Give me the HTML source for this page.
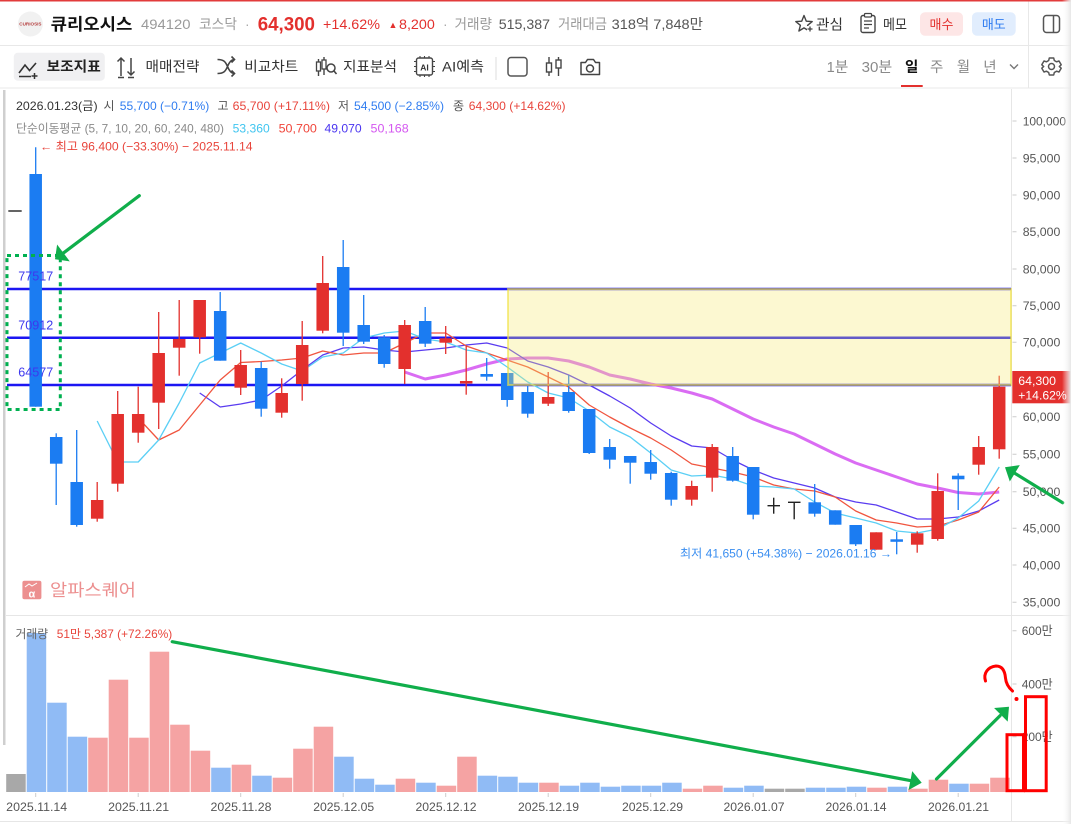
<!DOCTYPE html>
<html><head><meta charset="utf-8">
<style>
html,body{margin:0;padding:0;background:#fff;width:1071px;height:824px;overflow:hidden;}
svg{display:block;}
</style></head>
<body>
<svg width="1071" height="824" viewBox="0 0 1071 824" xmlns="http://www.w3.org/2000/svg" font-family="'Liberation Sans','Noto Sans CJK KR',sans-serif">
<defs>
<linearGradient id="sh" x1="0" x2="1" y1="0" y2="0"><stop offset="0" stop-color="#fff" stop-opacity="0"/><stop offset="1" stop-color="#e6e6e6"/></linearGradient>
</defs>
<rect width="1071" height="824" fill="#fff"/>

<!-- ===== HEADER ===== -->
<rect x="0" y="0" width="1071" height="1.5" fill="#e23b3b"/>
<line x1="0" y1="45.5" x2="1071" y2="45.5" stroke="#e8e8e8"/>
<line x1="0" y1="88" x2="1071" y2="88" stroke="#e8e8e8"/>
<line x1="1028.5" y1="1.5" x2="1028.5" y2="88" stroke="#e8e8e8"/>

<circle cx="30.4" cy="24" r="12.5" fill="#f1f1f1"/>
<text x="30.4" y="25.6" font-size="4.6" text-anchor="middle" fill="#b54040" font-weight="bold">CURIOSIS</text>

<text x="50.6" y="30" font-size="16.5" font-weight="bold" fill="#111" textLength="81.8" lengthAdjust="spacingAndGlyphs">큐리오시스</text>
<text x="141" y="29" font-size="14" fill="#9a9a9a" textLength="49.5" lengthAdjust="spacingAndGlyphs">494120</text>
<text x="199" y="29" font-size="14" fill="#9a9a9a" textLength="38" lengthAdjust="spacingAndGlyphs">코스닥</text>
<text x="245" y="29" font-size="14" fill="#aaa">·</text>
<text x="257.7" y="30.5" font-size="19" font-weight="bold" fill="#e3302d" textLength="57.3" lengthAdjust="spacingAndGlyphs">64,300</text>
<text x="323" y="29" font-size="14" fill="#e3302d" textLength="57" lengthAdjust="spacingAndGlyphs">+14.62%</text>
<text x="388.5" y="28" font-size="9" fill="#e3302d">▲</text>
<text x="399" y="29" font-size="14" fill="#e3302d" textLength="35.8" lengthAdjust="spacingAndGlyphs">8,200</text>
<text x="443" y="29" font-size="14" fill="#aaa">·</text>
<text x="454.5" y="29" font-size="14" fill="#9a9a9a" textLength="37.5" lengthAdjust="spacingAndGlyphs">거래량</text>
<text x="498.8" y="29" font-size="14" fill="#555" textLength="51.2" lengthAdjust="spacingAndGlyphs">515,387</text>
<text x="558" y="29" font-size="14" fill="#9a9a9a" textLength="49" lengthAdjust="spacingAndGlyphs">거래대금</text>
<text x="611.7" y="29" font-size="14" fill="#555" textLength="91.3" lengthAdjust="spacingAndGlyphs">318억 7,848만</text>

<!-- star -->
<polygon points="804,15.5 806.3,21.2 812.2,21.6 807.6,25.3 809.1,31 804,27.9 798.9,31 800.4,25.3 795.8,21.6 801.7,21.2" fill="none" stroke="#444" stroke-width="1.4" stroke-linejoin="round"/>
<rect x="807" y="26" width="6" height="6" fill="#fff"/>
<path d="M810 26.5v5M807.5 29h5" stroke="#444" stroke-width="1.3"/>
<text x="816" y="29.5" font-size="14" fill="#333" textLength="27" lengthAdjust="spacingAndGlyphs">관심</text>
<!-- memo -->
<rect x="861" y="15.5" width="14" height="17" rx="2" fill="none" stroke="#444" stroke-width="1.4"/>
<rect x="864.5" y="13.5" width="7" height="3.5" rx="1" fill="#fff" stroke="#444" stroke-width="1.2"/>
<path d="M864 21h8M864 24.5h8M864 28h5" stroke="#444" stroke-width="1.2"/>
<text x="883" y="29.5" font-size="14" fill="#333" textLength="24" lengthAdjust="spacingAndGlyphs">메모</text>
<!-- buttons -->
<rect x="920" y="12.3" width="43" height="23.4" rx="5" fill="#fde6e6"/>
<text x="941.5" y="28.8" font-size="13" fill="#e3302d" text-anchor="middle">매수</text>
<rect x="972" y="12.3" width="43.7" height="23.4" rx="5" fill="#e1edfd"/>
<text x="993.8" y="28.8" font-size="13" fill="#2f7cf0" text-anchor="middle">매도</text>
<!-- panel icon -->
<rect x="1043.5" y="15.5" width="16" height="17" rx="3" fill="none" stroke="#555" stroke-width="1.5"/>
<line x1="1053.5" y1="15.5" x2="1053.5" y2="32.5" stroke="#555" stroke-width="1.5"/>

<!-- ===== TOOLBAR ===== -->
<rect x="13.8" y="52.7" width="91" height="28" rx="4" fill="#f0f0f2"/>
<path d="M19 73 L25 65 L29.5 70.5 L36 63" fill="none" stroke="#333" stroke-width="1.6"/>
<path d="M19 76.5h12M34.5 73v6M31.5 76h6" stroke="#333" stroke-width="1.5"/>
<text x="46.6" y="71.5" font-size="14" fill="#222" font-weight="bold" textLength="54.2" lengthAdjust="spacingAndGlyphs">보조지표</text>

<path d="M121 76V58M117.5 61.5L121 58L124.5 61.5M131 58V75M127.5 71.5L131 75L134.5 71.5M118 77.5h6M128 77.5h6" fill="none" stroke="#444" stroke-width="1.5"/>
<text x="145.5" y="71.5" font-size="14" fill="#333" textLength="54" lengthAdjust="spacingAndGlyphs">매매전략</text>

<path d="M217.5 59.5c6 0 8 2 10 7s4 7 7 7M217.5 73.5c6 0 8-2 10-7s4-7 7-7M231.5 56.5l3 3-3 3M231.5 70.5l3 3-3 3" fill="none" stroke="#444" stroke-width="1.6"/>
<text x="244.3" y="71.5" font-size="14" fill="#333" textLength="54" lengthAdjust="spacingAndGlyphs">비교차트</text>

<path d="M318.5 59v17M324 57v18" stroke="#444" stroke-width="1.4"/>
<rect x="316.5" y="62" width="4" height="9" fill="#fff" stroke="#444" stroke-width="1.3"/>
<rect x="322" y="60" width="4" height="9" fill="#fff" stroke="#444" stroke-width="1.3"/>
<circle cx="331" cy="68" r="4" fill="none" stroke="#444" stroke-width="1.5"/>
<path d="M334 71l2.5 3" stroke="#444" stroke-width="1.6"/>
<text x="343" y="71.5" font-size="14" fill="#333" textLength="54" lengthAdjust="spacingAndGlyphs">지표분석</text>

<rect x="416.5" y="58" width="16" height="17" rx="2" fill="none" stroke="#444" stroke-width="1.4"/>
<path d="M414 61.5h2.5M414 66.5h2.5M414 71.5h2.5M432.5 61.5h2.5M432.5 66.5h2.5M432.5 71.5h2.5M420 56v2M424.5 56v2M429 56v2M420 75v2M424.5 75v2M429 75v2" stroke="#444" stroke-width="1.1"/>
<text x="424.5" y="70.3" font-size="8.5" fill="#333" text-anchor="middle" font-weight="bold">AI</text>
<text x="442" y="71.5" font-size="14" fill="#333" textLength="42" lengthAdjust="spacingAndGlyphs">AI예측</text>

<line x1="496" y1="57" x2="496" y2="80" stroke="#ddd"/>
<rect x="508" y="57.5" width="19" height="18.5" rx="3" fill="none" stroke="#555" stroke-width="1.5"/>
<path d="M549 57v19M558.5 57v19" stroke="#444" stroke-width="1.4"/>
<rect x="546.5" y="63" width="5" height="9" fill="#fff" stroke="#444" stroke-width="1.4"/>
<rect x="556" y="60" width="5" height="8" fill="#fff" stroke="#444" stroke-width="1.4"/>
<path d="M581 62.5h4.5l2-3h6l2 3h4v12h-18.5z" fill="none" stroke="#444" stroke-width="1.5" stroke-linejoin="round"/>
<circle cx="590" cy="68.5" r="3.5" fill="none" stroke="#444" stroke-width="1.5"/>

<text x="826.7" y="72" font-size="14.5" fill="#8a8a8a" textLength="21.6" lengthAdjust="spacingAndGlyphs">1분</text>
<text x="861.7" y="72" font-size="14.5" fill="#8a8a8a" textLength="30.6" lengthAdjust="spacingAndGlyphs">30분</text>
<text x="905" y="72" font-size="14.5" fill="#111" font-weight="bold">일</text>
<rect x="901" y="85" width="21.7" height="2" fill="#e3302d"/>
<text x="930" y="72" font-size="14.5" fill="#8a8a8a">주</text>
<text x="956.7" y="72" font-size="14.5" fill="#8a8a8a">월</text>
<text x="983.3" y="72" font-size="14.5" fill="#8a8a8a">년</text>
<path d="M1010 64.5l4 4 4-4" fill="none" stroke="#777" stroke-width="1.4"/>
<!-- gear -->
<g transform="translate(1051.5,66.5)" fill="none" stroke="#555" stroke-width="1.5">
<path d="M-2.2,-8.5 L2.2,-8.5 L2.8,-6 L5.1,-4.7 L7.5,-5.5 L9.7,-1.7 L7.8,0 L9.7,1.7 L7.5,5.5 L5.1,4.7 L2.8,6 L2.2,8.5 L-2.2,8.5 L-2.8,6 L-5.1,4.7 L-7.5,5.5 L-9.7,1.7 L-7.8,0 L-9.7,-1.7 L-7.5,-5.5 L-5.1,-4.7 L-2.8,-6 Z" stroke-linejoin="round"/>
<circle r="3"/>
</g>

<!-- ===== CHART FRAME ===== -->
<rect x="3" y="90" width="2.5" height="655" fill="#cfcfcf"/>
<line x1="1011.5" y1="89" x2="1011.5" y2="821" stroke="#e6e6e6"/>
<line x1="6" y1="615.5" x2="1071" y2="615.5" stroke="#e6e6e6"/>
<line x1="0" y1="821.5" x2="1071" y2="821.5" stroke="#e6e6e6"/>

<!-- info lines -->
<text x="16" y="110" font-size="12" fill="#333" textLength="81.6" lengthAdjust="spacingAndGlyphs">2026.01.23(금)</text>
<text x="103.5" y="110" font-size="12" fill="#555">시</text>
<text x="119.8" y="110" font-size="12" fill="#2f7cf0" textLength="89.5" lengthAdjust="spacingAndGlyphs">55,700 (−0.71%)</text>
<text x="217.5" y="110" font-size="12" fill="#555">고</text>
<text x="232.7" y="110" font-size="12" fill="#e8453c" textLength="97.3" lengthAdjust="spacingAndGlyphs">65,700 (+17.11%)</text>
<text x="338" y="110" font-size="12" fill="#555">저</text>
<text x="354" y="110" font-size="12" fill="#2f7cf0" textLength="90" lengthAdjust="spacingAndGlyphs">54,500 (−2.85%)</text>
<text x="453" y="110" font-size="12" fill="#555">종</text>
<text x="468.8" y="110" font-size="12" fill="#e8453c" textLength="96.8" lengthAdjust="spacingAndGlyphs">64,300 (+14.62%)</text>

<text x="16" y="132.5" font-size="12" fill="#8a8a8a" textLength="208" lengthAdjust="spacingAndGlyphs">단순이동평균 (5, 7, 10, 20, 60, 240, 480)</text>
<text x="232.7" y="132.5" font-size="12" fill="#3fc5f0" textLength="37" lengthAdjust="spacingAndGlyphs">53,360</text>
<text x="278.6" y="132.5" font-size="12" fill="#f0453a" textLength="38.3" lengthAdjust="spacingAndGlyphs">50,700</text>
<text x="324.5" y="132.5" font-size="12" fill="#4a35f0" textLength="37.2" lengthAdjust="spacingAndGlyphs">49,070</text>
<text x="370.5" y="132.5" font-size="12" fill="#d457f0" textLength="38.2" lengthAdjust="spacingAndGlyphs">50,168</text>

<text x="40" y="150.3" font-size="12" fill="#e8453c" textLength="212.6" lengthAdjust="spacingAndGlyphs">← 최고 96,400 (−33.30%) − 2025.11.14</text>

<!-- price axis -->
<g font-size="12.3" fill="#555">
<text x="1022.7" y="125.3" textLength="43.3" lengthAdjust="spacingAndGlyphs">100,000</text>
<text x="1022.7" y="162.3" textLength="37.6" lengthAdjust="spacingAndGlyphs">95,000</text>
<text x="1022.7" y="199.3" textLength="37.6" lengthAdjust="spacingAndGlyphs">90,000</text>
<text x="1022.7" y="236" textLength="37.6" lengthAdjust="spacingAndGlyphs">85,000</text>
<text x="1022.7" y="273.3" textLength="37.6" lengthAdjust="spacingAndGlyphs">80,000</text>
<text x="1022.7" y="310" textLength="37.6" lengthAdjust="spacingAndGlyphs">75,000</text>
<text x="1022.7" y="346.6" textLength="37.6" lengthAdjust="spacingAndGlyphs">70,000</text>
<text x="1022.7" y="421" textLength="37.6" lengthAdjust="spacingAndGlyphs">60,000</text>
<text x="1022.7" y="458.6" textLength="37.6" lengthAdjust="spacingAndGlyphs">55,000</text>
<text x="1022.7" y="496" textLength="37.6" lengthAdjust="spacingAndGlyphs">50,000</text>
<text x="1022.7" y="532.6" textLength="37.6" lengthAdjust="spacingAndGlyphs">45,000</text>
<text x="1022.7" y="569.3" textLength="37.6" lengthAdjust="spacingAndGlyphs">40,000</text>
<text x="1022.7" y="606.5" textLength="37.6" lengthAdjust="spacingAndGlyphs">35,000</text>
</g>
<path d="M1012.5 121h4M1012.5 158h4M1012.5 195h4M1012.5 231.7h4M1012.5 269h4M1012.5 305.7h4M1012.5 342.3h4M1012.5 416.7h4M1012.5 454.3h4M1012.5 491.7h4M1012.5 528.3h4M1012.5 565h4M1012.5 602.2h4" stroke="#ccc"/>

<!-- volume axis -->
<g font-size="12.3" fill="#555">
<text x="1021.7" y="635" textLength="31" lengthAdjust="spacingAndGlyphs">600만</text>
<text x="1021.7" y="688.3" textLength="31" lengthAdjust="spacingAndGlyphs">400만</text>
<text x="1021.7" y="741" textLength="31" lengthAdjust="spacingAndGlyphs">200만</text>
</g>
<path d="M1012.5 630.7h4M1012.5 684h4M1012.5 736.7h4" stroke="#ccc"/>

<!-- date axis -->
<g font-size="12.3" fill="#555" text-anchor="middle">
<text x="36.7" y="811" textLength="61" lengthAdjust="spacingAndGlyphs">2025.11.14</text>
<text x="138.6" y="811" textLength="61" lengthAdjust="spacingAndGlyphs">2025.11.21</text>
<text x="241" y="811" textLength="61" lengthAdjust="spacingAndGlyphs">2025.11.28</text>
<text x="343.7" y="811" textLength="61" lengthAdjust="spacingAndGlyphs">2025.12.05</text>
<text x="446" y="811" textLength="61" lengthAdjust="spacingAndGlyphs">2025.12.12</text>
<text x="548.5" y="811" textLength="61" lengthAdjust="spacingAndGlyphs">2025.12.19</text>
<text x="652.5" y="811" textLength="61" lengthAdjust="spacingAndGlyphs">2025.12.29</text>
<text x="754" y="811" textLength="61" lengthAdjust="spacingAndGlyphs">2026.01.07</text>
<text x="856" y="811" textLength="61" lengthAdjust="spacingAndGlyphs">2026.01.14</text>
<text x="958.5" y="811" textLength="61" lengthAdjust="spacingAndGlyphs">2026.01.21</text>
</g>
<path d="M35.7 793v4M138.2 793v4M240.7 793v4M343.2 793v4M445.7 793v4M548.2 793v4M650.7 793v4M753.2 793v4M855.7 793v4M958.2 793v4" stroke="#ccc"/>

<!-- watermark -->
<rect x="22.4" y="580.7" width="19" height="18.6" rx="2" fill="#ec8f8f"/>
<path d="M25 587l4-3 3 2 5-3" fill="none" stroke="#fff" stroke-width="1"/>
<text x="31.9" y="597.5" font-size="11" fill="#fff" text-anchor="middle" font-weight="bold">α</text>
<text x="50" y="596" font-size="17" fill="#ec8f8f" textLength="86" lengthAdjust="spacingAndGlyphs">알파스퀘어</text>

<!-- ===== VOLUME BARS ===== -->
<g fill="#90bbf5">
<rect x="26.7" y="633" width="19.5" height="159"/>
<rect x="47.2" y="702.7" width="19.5" height="89.3"/>
<rect x="67.7" y="736.7" width="19.5" height="55.3"/>
<rect x="211.2" y="767.7" width="19.5" height="24.3"/>
<rect x="252.2" y="775.7" width="19.5" height="16.3"/>
<rect x="334.2" y="756.7" width="19.5" height="35.3"/>
<rect x="354.7" y="778.7" width="19.5" height="13.3"/>
<rect x="375.2" y="784.7" width="19.5" height="7.3"/>
<rect x="416.2" y="782.7" width="19.5" height="9.3"/>
<rect x="477.7" y="775.7" width="19.5" height="16.3"/>
<rect x="498.2" y="776.7" width="19.5" height="15.3"/>
<rect x="518.7" y="782.7" width="19.5" height="9.3"/>
<rect x="559.7" y="785.7" width="19.5" height="6.3"/>
<rect x="580.2" y="782.7" width="19.5" height="9.3"/>
<rect x="600.7" y="786.7" width="19.5" height="5.3"/>
<rect x="621.2" y="785.7" width="19.5" height="6.3"/>
<rect x="641.7" y="785.7" width="19.5" height="6.3"/>
<rect x="662.2" y="782.7" width="19.5" height="9.3"/>
<rect x="723.7" y="787.7" width="19.5" height="4.3"/>
<rect x="744.2" y="785.7" width="19.5" height="6.3"/>
<rect x="805.7" y="787.7" width="19.5" height="4.3"/>
<rect x="826.2" y="787.7" width="19.5" height="4.3"/>
<rect x="846.7" y="786.7" width="19.5" height="5.3"/>
<rect x="887.7" y="786.7" width="19.5" height="5.3"/>
<rect x="949.2" y="783.7" width="19.5" height="8.3"/>
</g>
<g fill="#f5a3a3">
<rect x="88.2" y="737.7" width="19.5" height="54.3"/>
<rect x="108.7" y="679.7" width="19.5" height="112.3"/>
<rect x="129.2" y="737.7" width="19.5" height="54.3"/>
<rect x="149.7" y="651.7" width="19.5" height="140.3"/>
<rect x="170.2" y="724.7" width="19.5" height="67.3"/>
<rect x="190.7" y="750.7" width="19.5" height="41.3"/>
<rect x="231.7" y="764.7" width="19.5" height="27.3"/>
<rect x="272.7" y="777.7" width="19.5" height="14.3"/>
<rect x="293.2" y="748.7" width="19.5" height="43.3"/>
<rect x="313.7" y="726.7" width="19.5" height="65.3"/>
<rect x="395.7" y="778.7" width="19.5" height="13.3"/>
<rect x="436.7" y="785.7" width="19.5" height="6.3"/>
<rect x="457.2" y="756.7" width="19.5" height="35.3"/>
<rect x="539.2" y="782.7" width="19.5" height="9.3"/>
<rect x="682.7" y="788.7" width="19.5" height="3.3"/>
<rect x="703.2" y="785.7" width="19.5" height="6.3"/>
<rect x="867.2" y="787.7" width="19.5" height="4.3"/>
<rect x="908.2" y="788.7" width="19.5" height="3.3"/>
<rect x="928.7" y="779.7" width="19.5" height="12.3"/>
<rect x="969.7" y="783.7" width="19.5" height="8.3"/>
<rect x="990.2" y="777.7" width="19.5" height="14.3"/>
</g>
<g fill="#a8a8a8">
<rect x="6.2" y="774" width="19.5" height="18"/>
<rect x="764.7" y="788.7" width="19.5" height="3.3"/>
<rect x="785.2" y="788.7" width="19.5" height="3.3"/>
</g>

<text x="15.5" y="638" font-size="12" fill="#666" textLength="32.7" lengthAdjust="spacingAndGlyphs">거래량</text>
<text x="56.8" y="638" font-size="12" fill="#e8453c" textLength="115.4" lengthAdjust="spacingAndGlyphs">51만 5,387 (+72.26%)</text>

<!-- ===== HORIZONTAL LEVEL LINES ===== -->
<g stroke="#1c16f2" stroke-width="2.5">
<line x1="7" y1="289" x2="1011" y2="289"/>
<line x1="7" y1="337.8" x2="1011" y2="337.8"/>
<line x1="7" y1="385" x2="1011" y2="385"/>
</g>

<!-- ===== MOVING AVERAGES ===== -->
<polyline fill="none" stroke="#d65cf2" stroke-width="3" stroke-opacity="0.9" stroke-linejoin="round" points="404.7,372 425.2,379 445.7,375 466.2,370 486.7,364 507.2,359 527.7,358 548.2,358 568.7,361 589.2,367 609.7,375 630.2,379 650.7,384 671.2,388 691.7,393 712.2,399 732.7,409 753.2,419 773.7,427 794.2,434 814.7,444 835.2,454 855.7,463 876.2,470 896.7,477 917.2,484 937.7,488 958.2,492.5 978.7,494 999.2,492"/>
<polyline fill="none" stroke="#5a3cf0" stroke-width="1.3" stroke-linejoin="round" points="199.7,393 220.2,407 240.7,404 261.2,400 281.7,386 302.2,370 322.7,355 343.2,348 363.7,347 384.2,350 404.7,352 425.2,350 445.7,348 466.2,345 486.7,343 507.2,348 527.7,361 548.2,367 568.7,375 589.2,385 609.7,396 630.2,408 650.7,423 671.2,436 691.7,446 712.2,448 732.7,460 753.2,470 773.7,478 794.2,483 814.7,488 835.2,497 855.7,502 876.2,505 896.7,512 917.2,519 937.7,519 958.2,517 978.7,511 999.2,500"/>
<polyline fill="none" stroke="#f0553f" stroke-width="1.3" stroke-linejoin="round" points="138.2,418 158.7,440 179.2,430 199.7,405 220.2,380 240.7,362.5 261.2,361.5 281.7,360 302.2,358 322.7,351 343.2,355 363.7,353 384.2,353 404.7,343 425.2,333 445.7,333 466.2,346 486.7,353 507.2,360 527.7,367 548.2,377 568.7,387 589.2,405 609.7,417 630.2,428 650.7,438 671.2,450 691.7,464 712.2,468 732.7,472 753.2,477 773.7,485 794.2,489 814.7,491 835.2,497 855.7,511 876.2,520 896.7,523 917.2,527 937.7,526 958.2,520 978.7,512 999.2,487"/>
<polyline fill="none" stroke="#5bcff5" stroke-width="1.3" stroke-linejoin="round" points="97.2,421 117.7,462 138.2,462 158.7,440 179.2,403 199.7,363 220.2,353 240.7,343 261.2,353 281.7,364 302.2,371 322.7,357 343.2,353 363.7,338 384.2,333 404.7,331 425.2,339 445.7,342 466.2,350 486.7,353 507.2,367 527.7,382 548.2,393 568.7,398 589.2,411 609.7,427 630.2,437 650.7,453 671.2,470 691.7,476 712.2,475 732.7,479 753.2,486 773.7,487 794.2,489 814.7,502 835.2,513 855.7,518 876.2,523 896.7,531 917.2,533 937.7,529 958.2,518 978.7,501 999.2,467"/>

<!-- ===== CANDLES ===== -->
<g stroke="#1b7cf2" stroke-width="1.3">
<line x1="35.7" y1="147.3" x2="35.7" y2="406.7"/>
<line x1="56.2" y1="433.3" x2="56.2" y2="505"/>
<line x1="76.7" y1="430" x2="76.7" y2="526.7"/>
<line x1="220.2" y1="292" x2="220.2" y2="360.7"/>
<line x1="261.2" y1="361.7" x2="261.2" y2="416.7"/>
<line x1="343.2" y1="240" x2="343.2" y2="346"/>
<line x1="363.7" y1="295" x2="363.7" y2="344"/>
<line x1="384.2" y1="335" x2="384.2" y2="367.7"/>
<line x1="425.2" y1="307" x2="425.2" y2="347"/>
<line x1="486.7" y1="358" x2="486.7" y2="380.7"/>
<line x1="507.2" y1="373" x2="507.2" y2="406.7"/>
<line x1="527.7" y1="385.7" x2="527.7" y2="417.7"/>
<line x1="568.7" y1="375" x2="568.7" y2="412.7"/>
<line x1="589.2" y1="409" x2="589.2" y2="454"/>
<line x1="609.7" y1="439" x2="609.7" y2="468.7"/>
<line x1="630.2" y1="456" x2="630.2" y2="483.7"/>
<line x1="650.7" y1="450" x2="650.7" y2="479.7"/>
<line x1="671.2" y1="471.7" x2="671.2" y2="505.7"/>
<line x1="732.7" y1="447" x2="732.7" y2="481.7"/>
<line x1="753.2" y1="467" x2="753.2" y2="519.3"/>
<line x1="814.7" y1="484" x2="814.7" y2="516.7"/>
<line x1="835.2" y1="510.3" x2="835.2" y2="524.7"/>
<line x1="855.7" y1="525" x2="855.7" y2="546"/>
<line x1="896.7" y1="532" x2="896.7" y2="554.3"/>
<line x1="958.2" y1="473.3" x2="958.2" y2="510"/>
</g>
<g fill="#1b7cf2">
<rect x="29.45" y="174" width="12.5" height="232.7"/>
<rect x="49.95" y="437" width="12.5" height="26.7"/>
<rect x="70.45" y="482" width="12.5" height="43"/>
<rect x="213.95" y="311" width="12.5" height="49.7"/>
<rect x="254.95" y="368" width="12.5" height="40.7"/>
<rect x="336.95" y="267" width="12.5" height="65.7"/>
<rect x="357.45" y="325" width="12.5" height="16.7"/>
<rect x="377.95" y="337.3" width="12.5" height="26.7"/>
<rect x="418.95" y="321" width="12.5" height="22.7"/>
<rect x="480.45" y="374" width="12.5" height="2.7"/>
<rect x="500.95" y="373" width="12.5" height="27"/>
<rect x="521.45" y="392" width="12.5" height="21.7"/>
<rect x="562.45" y="392" width="12.5" height="19"/>
<rect x="582.95" y="409" width="12.5" height="44"/>
<rect x="603.45" y="447" width="12.5" height="12.7"/>
<rect x="623.95" y="456" width="12.5" height="6.7"/>
<rect x="644.45" y="462" width="12.5" height="11.7"/>
<rect x="664.95" y="473" width="12.5" height="26.7"/>
<rect x="726.45" y="456" width="12.5" height="24.7"/>
<rect x="746.95" y="467" width="12.5" height="47.7"/>
<rect x="808.45" y="502.3" width="12.5" height="11.4"/>
<rect x="828.95" y="510.3" width="12.5" height="14.4"/>
<rect x="849.45" y="525" width="12.5" height="19.3"/>
<rect x="890.45" y="539.3" width="12.5" height="2.5"/>
<rect x="951.95" y="475.7" width="12.5" height="3.6"/>
</g>
<g stroke="#e3302d" stroke-width="1.3">
<line x1="97.2" y1="482" x2="97.2" y2="521.7"/>
<line x1="117.7" y1="391" x2="117.7" y2="491.7"/>
<line x1="138.2" y1="386.7" x2="138.2" y2="442.7"/>
<line x1="158.7" y1="312" x2="158.7" y2="429"/>
<line x1="179.2" y1="300" x2="179.2" y2="375.7"/>
<line x1="199.7" y1="300" x2="199.7" y2="353.7"/>
<line x1="240.7" y1="350" x2="240.7" y2="395"/>
<line x1="281.7" y1="378.3" x2="281.7" y2="417.7"/>
<line x1="302.2" y1="321" x2="302.2" y2="400.7"/>
<line x1="322.7" y1="256" x2="322.7" y2="333.3"/>
<line x1="404.7" y1="320" x2="404.7" y2="384"/>
<line x1="445.7" y1="326" x2="445.7" y2="354"/>
<line x1="466.2" y1="346" x2="466.2" y2="394.7"/>
<line x1="548.2" y1="372" x2="548.2" y2="406"/>
<line x1="691.7" y1="480.7" x2="691.7" y2="505.7"/>
<line x1="712.2" y1="444" x2="712.2" y2="491.7"/>
<line x1="876.2" y1="532.3" x2="876.2" y2="549.7"/>
<line x1="917.2" y1="531.3" x2="917.2" y2="552.7"/>
<line x1="937.7" y1="473.3" x2="937.7" y2="540.7"/>
<line x1="978.7" y1="436" x2="978.7" y2="474.7"/>
<line x1="999.2" y1="375.7" x2="999.2" y2="458.7"/>
</g>
<g fill="#e3302d">
<rect x="90.95" y="500" width="12.5" height="18.7"/>
<rect x="111.45" y="414" width="12.5" height="69.7"/>
<rect x="131.95" y="414" width="12.5" height="18.7"/>
<rect x="152.45" y="353" width="12.5" height="49.7"/>
<rect x="172.95" y="339" width="12.5" height="8.7"/>
<rect x="193.45" y="300" width="12.5" height="37.3"/>
<rect x="234.45" y="365" width="12.5" height="22.7"/>
<rect x="275.45" y="393" width="12.5" height="19.7"/>
<rect x="295.95" y="345" width="12.5" height="39"/>
<rect x="316.45" y="283" width="12.5" height="47.7"/>
<rect x="398.45" y="325" width="12.5" height="44"/>
<rect x="439.45" y="338.3" width="12.5" height="4.4"/>
<rect x="459.95" y="381" width="12.5" height="2.5"/>
<rect x="541.95" y="397" width="12.5" height="6.7"/>
<rect x="685.45" y="486" width="12.5" height="13.7"/>
<rect x="705.95" y="447" width="12.5" height="30.7"/>
<rect x="869.95" y="532.3" width="12.5" height="17.4"/>
<rect x="910.95" y="533.3" width="12.5" height="11.4"/>
<rect x="931.45" y="491" width="12.5" height="48"/>
<rect x="972.45" y="447" width="12.5" height="17.7"/>
<rect x="992.95" y="386.7" width="12.5" height="62.6"/>
</g>
<g stroke="#222" stroke-width="1.4">
<line x1="8.3" y1="211" x2="21.7" y2="211"/>
<line x1="767.5" y1="505.7" x2="780" y2="505.7"/>
<line x1="773.7" y1="497.7" x2="773.7" y2="513.7"/>
<line x1="788" y1="502.3" x2="800.5" y2="502.3"/>
<line x1="794.2" y1="502.3" x2="794.2" y2="519.3"/>
</g>

<!-- level labels (drawn over candles) -->
<g font-size="12.6" fill="#3d38ee">
<text x="18.3" y="280.5" textLength="35" lengthAdjust="spacingAndGlyphs">77517</text>
<text x="18.3" y="329.5" textLength="35" lengthAdjust="spacingAndGlyphs">70912</text>
<text x="18.3" y="376.5" textLength="35" lengthAdjust="spacingAndGlyphs">64577</text>
</g>

<!-- yellow zone overlay -->
<rect x="508" y="289" width="503" height="96" fill="rgb(245,235,115)" fill-opacity="0.33" stroke="rgb(240,225,60)" stroke-opacity="0.6" stroke-width="2"/>

<!-- low annotation -->
<text x="680" y="557.5" font-size="12" fill="#3a8ef0" textLength="212" lengthAdjust="spacingAndGlyphs">최저 41,650 (+54.38%) − 2026.01.16 →</text>

<!-- price box -->
<rect x="1012.3" y="371" width="58" height="32.3" fill="#e3302d"/>
<text x="1018.3" y="385" font-size="12" fill="#fff" textLength="37.7" lengthAdjust="spacingAndGlyphs">64,300</text>
<text x="1018.3" y="399.3" font-size="12" fill="#fff" textLength="48.4" lengthAdjust="spacingAndGlyphs">+14.62%</text>

<!-- ===== ANNOTATIONS ===== -->
<rect x="7" y="255.5" width="53.3" height="154" fill="none" stroke="#00b050" stroke-width="3" stroke-dasharray="4 4"/>
<g stroke="#10ae4b" stroke-width="3.2" stroke-linecap="round" fill="none">
<line x1="139.3" y1="195.7" x2="63" y2="253.3"/>
<line x1="172.2" y1="641.7" x2="911" y2="780.7"/>
<line x1="936.5" y1="779" x2="1000" y2="715.7"/>
<line x1="1062.7" y1="502.7" x2="1013.5" y2="472.5"/>
</g>
<g fill="#10ae4b">
<polygon points="55,259.3 57.1,244.5 69.8,261.4"/>
<polygon points="921.7,782.7 912.2,771.1 908.6,790"/>
<polygon points="1009,706.7 994.1,708 1007.7,721.6"/>
<polygon points="1005,467.3 1009.8,481.5 1019.8,465.1"/>
</g>
<g stroke="#ff0000" stroke-width="3" fill="none">
<rect x="1007" y="734.7" width="16.5" height="56"/>
<rect x="1025.5" y="696.7" width="20.7" height="94"/>
<path d="M985.5,681 C983,673 988,667 996,666 C1003,666 1005,672 1005.5,678 C1006,684 1009,688 1012.5,691" stroke-linecap="round"/>
</g>
<circle cx="1016.5" cy="699" r="2" fill="#ff0000"/>

<!-- right edge shadow -->
<rect x="1062" y="0" width="9" height="824" fill="url(#sh)"/>
</svg>
</body></html>
